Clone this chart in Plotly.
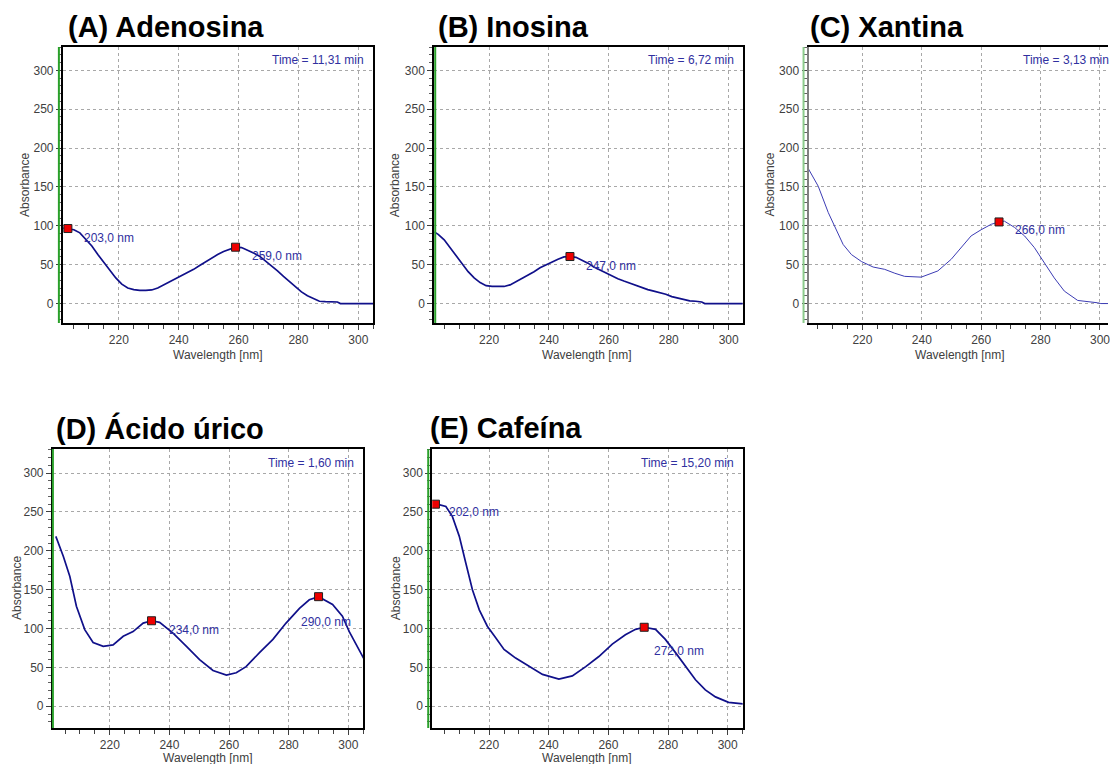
import plotly.graph_objects as go

W, H = 1110, 764

# ---------------- data ----------------
titles = ["(A) Adenosina", "(B) Inosina", "(C) Xantina", "(D) Ácido úrico", "(E) Cafeína"]
times = ["Time = 11,31 min", "Time = 6,72 min", "Time = 3,13 min", "Time = 1,60 min", "Time = 15,20 min"]

wl_a = [201.5, 203, 205, 207, 209, 211, 213, 215, 217, 219, 221, 223, 225, 227, 229, 231, 233, 235,
        237, 239, 241, 243, 245, 247, 249, 251, 253, 255, 257, 259, 261, 263, 265, 267, 269, 271,
        273, 275, 277, 279, 281, 283, 285, 287, 289, 291, 293, 294, 305]
abs_a = [97, 96.5, 95, 91, 83, 74, 63, 53, 43, 33, 25, 20, 18, 17, 17, 17.5, 20, 24,
         28, 31, 35, 39, 44, 49, 54, 59, 63, 67, 70, 72.5, 72, 69, 65, 61, 55, 48,
         42, 35, 28, 22, 15, 10, 6, 3, 2.5, 2.5, 2, 0, 0]
peak_wl_a = [203, 259]
peak_abs_a = [96.5, 72.5]
peak_lbl_a = ["203,0 nm", "259,0 nm"]

wl_b = [201.7, 203, 205, 207, 209, 211, 213, 215, 217, 219, 221, 223, 225, 227, 229, 231, 233, 235,
        237, 239, 241, 243, 245, 247, 249, 251, 253, 255, 257, 259, 261, 263, 265, 267, 269, 271,
        273, 275, 277, 279, 281, 283, 285, 287, 289, 291, 292, 305]
abs_b = [92, 89, 82, 72, 61, 51, 41, 33, 27, 23, 22, 22, 22, 24, 28, 32, 36, 41,
         46, 50, 54, 57, 60, 60.5, 59.5, 56, 52, 47, 43, 39, 36, 32, 29, 26, 23, 20,
         18, 16, 14, 12, 9, 7, 5, 3.5, 3, 2, 0, 0]
peak_wl_b = [247]
peak_abs_b = [60.5]
peak_lbl_b = ["247,0 nm"]

wl_c = [201.7, 205.1, 208.5, 210.7, 213.5, 216.3, 219.7, 223.6, 227.5, 230.9, 234.2, 239.8, 245.4,
        249.9, 253.3, 256.6, 260, 263.4, 266, 267.8, 271.2, 274.6, 277.9, 281.3, 284.6, 288, 292.5,
        299.2, 300.3, 305]
abs_c = [174, 151, 117, 99, 76, 63, 54, 47, 44, 39, 35, 34, 42,
         57, 72, 87, 95, 102, 105, 106, 98, 87, 72, 52, 33, 16, 4,
         1, 0, 0]
peak_wl_c = [266]
peak_abs_c = [105]
peak_lbl_c = ["266,0 nm"]

wl_d = [201.9, 204.4, 206.6, 208.8, 211.6, 214.4, 217.8, 221.1, 224.5, 227.8, 231.2, 234, 236.7,
        241.2, 245.7, 250.1, 254.6, 259.1, 262.4, 265.7, 270.2, 274.7, 279.1, 283.6, 286.9, 290,
        294.7, 298, 300.3, 302.6, 304.8, 305.5]
abs_d = [218.6, 193, 167, 128.6, 98.6, 82, 77, 79, 90, 96, 107, 110, 108,
         94, 77, 60, 46, 40, 43, 51, 69, 86, 107, 126, 137, 141,
         131, 116, 96, 79, 62, 59]
peak_wl_d = [234, 290]
peak_abs_d = [110, 141]
peak_lbl_d = ["234,0 nm", "290,0 nm"]

wl_e = [201.6, 205.5, 207.7, 210, 212.2, 214.4, 216.7, 219.4, 222.2, 225, 228.9, 233.4, 237.9,
        243.4, 247.9, 252.4, 256.8, 261.3, 265.7, 269.1, 272, 275.8, 279.1, 282.5, 285.8, 289.2,
        292.5, 295.9, 300.3, 304.8, 305.5]
abs_e = [261, 257, 244, 218.6, 184, 150, 124, 103, 88, 73, 62, 51, 41,
         35, 39, 51, 64, 80, 92, 99, 101.6, 99, 86, 69, 51, 34,
         21, 12, 5, 3, 3]
peak_wl_e = [202, 272]
peak_abs_e = [260, 101.6]
peak_lbl_e = ["202,0 nm", "272,0 nm"]

x_tick_vals = [220, 240, 260, 280, 300]
y_tick_vals = [0, 50, 100, 150, 200, 250, 300]

series = [
    (wl_a, abs_a, peak_wl_a, peak_abs_a, peak_lbl_a),
    (wl_b, abs_b, peak_wl_b, peak_abs_b, peak_lbl_b),
    (wl_c, abs_c, peak_wl_c, peak_abs_c, peak_lbl_c),
    (wl_d, abs_d, peak_wl_d, peak_abs_d, peak_lbl_d),
    (wl_e, abs_e, peak_wl_e, peak_abs_e, peak_lbl_e),
]

# ---------------- layout / style (pixel geometry) ----------------
boxes = [(63, 374, 47, 323), (435, 744, 47, 323), (810, 1110, 47, 323),
         (53, 364, 449, 728), (433, 744, 449, 728)]
xranges = [[201.33, 305], [201.67, 304.67], [201.85, 302.7], [200.92, 305.02], [200.92, 305.02]]
yranges = [[-25, 330], [-25, 330], [-25, 330], [-28, 331], [-28, 331]]
green_x = [59, 436, 805, 53, 429]
title_pos = [(66, 27), (437, 27), (809, 27), (54, 428), (429, 428)]
time_pos = [(367, 60), (737, 60), (1113, 60), (357, 463), (737, 463)]
ylab_pos = [(25, 185), (396, 185), (771, 185), (17, 588), (397, 588)]
xlab_pos = [(218, 355), (588, 355), (962, 355), (208, 758), (588, 758)]
lbl_off = [[(14, 9, "left"), (14, 9, "left")],
           [(14, 9, "left")],
           [(14, 8, "left")],
           [(15, 9, "left"), (34, 25, "right")],
           [(12, 8, "left"), (8, 24, "left")]]
line_colors = ["#10108a", "#10108a", "#3c3cb4", "#10108a", "#10108a"]
line_widths = [1.7, 1.7, 1.0, 1.7, 1.7]
green_colors = ["#2aa02a", "#2aa02a", "#8ccc8c", "#2aa02a", "#2aa02a"]
left_line_colors = ["black", "black", "#808080", "black", "black"]

TXT_BLUE = "#3030a0"
FONT = "Liberation Sans, Arial, sans-serif"

def px(x):
    return x / W

def py(y):
    return 1 - y / H

fig = go.Figure()
layout = dict(width=W, height=H, margin=dict(l=0, r=0, t=0, b=0),
              paper_bgcolor="white", plot_bgcolor="white", showlegend=False,
              font=dict(family=FONT, size=12, color="#404040"))
annotations = []
shapes = []

for i, (wl, ab, pw, pa, pl) in enumerate(series):
    n = "" if i == 0 else str(i + 1)
    xa, ya = "x" + n, "y" + n
    l, r, t, b = boxes[i]
    axis_common = dict(showline=True, linewidth=2,
                       showgrid=True, gridcolor="#a8a8a8", gridwidth=1, griddash="3px,3px",
                       zeroline=False, ticks="outside", ticklen=5, tickcolor="#404040",
                       ticklabeloverflow="allow",
                       tickfont=dict(family=FONT, size=12, color="#404040"))
    layout["xaxis" + n] = dict(axis_common, linecolor="black", mirror=True,
                               domain=[px(l), px(r)], range=xranges[i],
                               anchor=ya, tickvals=x_tick_vals,
                               minor=dict(dtick=5, tick0=200, ticks="outside", ticklen=4,
                                          tickcolor="#404040", showgrid=False))
    layout["yaxis" + n] = dict(axis_common, linecolor=left_line_colors[i],
                               mirror=(i != 2),
                               domain=[py(b), py(t)], range=yranges[i],
                               anchor=xa, tickvals=y_tick_vals,
                               minor=dict(dtick=10, tick0=0, ticks="outside", ticklen=3,
                                          tickcolor="#606060", showgrid=False))
    fig.add_trace(go.Scatter(x=wl, y=ab, mode="lines", xaxis=xa, yaxis=ya,
                             line=dict(color=line_colors[i], width=line_widths[i]),
                             hoverinfo="skip"))
    fig.add_trace(go.Scatter(x=pw, y=pa, mode="markers", xaxis=xa, yaxis=ya,
                             marker=dict(symbol="square", size=8, color="#ee0000",
                                         line=dict(color="#202020", width=1)),
                             hoverinfo="skip"))
    for j, (xv, yv, txt) in enumerate(zip(pw, pa, pl)):
        dx, dy, anc = lbl_off[i][j]
        annotations.append(dict(x=xv, y=yv, xref=xa, yref=ya, text=txt, showarrow=False,
                                xanchor=anc, yanchor="middle", xshift=dx, yshift=-dy,
                                font=dict(family=FONT, size=12, color=TXT_BLUE)))
    shapes.append(dict(type="line", xref="paper", yref="paper",
                       x0=px(green_x[i]), x1=px(green_x[i]), y0=py(t), y1=py(b),
                       line=dict(color=green_colors[i], width=2)))
    tx, ty = title_pos[i]
    annotations.append(dict(x=px(tx), y=py(ty), xref="paper", yref="paper", text=titles[i],
                            showarrow=False, xanchor="left", yanchor="middle",
                            font=dict(family=FONT, size=29, color="black", weight="bold")))
    mx, my = time_pos[i]
    annotations.append(dict(x=px(mx), y=py(my), xref="paper", yref="paper", text=times[i],
                            showarrow=False, xanchor="right", yanchor="middle",
                            font=dict(family=FONT, size=12, color=TXT_BLUE)))
    ax_, ay_ = ylab_pos[i]
    annotations.append(dict(x=px(ax_), y=py(ay_), xref="paper", yref="paper", text="Absorbance",
                            showarrow=False, textangle=-90, xanchor="center", yanchor="middle",
                            font=dict(family=FONT, size=12, color="#404040")))
    bx, by = xlab_pos[i]
    annotations.append(dict(x=px(bx), y=py(by), xref="paper", yref="paper", text="Wavelength [nm]",
                            showarrow=False, xanchor="center", yanchor="middle",
                            font=dict(family=FONT, size=12, color="#404040")))

layout["annotations"] = annotations
layout["shapes"] = shapes
fig.update_layout(**layout)
fig.write_html("out.html")
